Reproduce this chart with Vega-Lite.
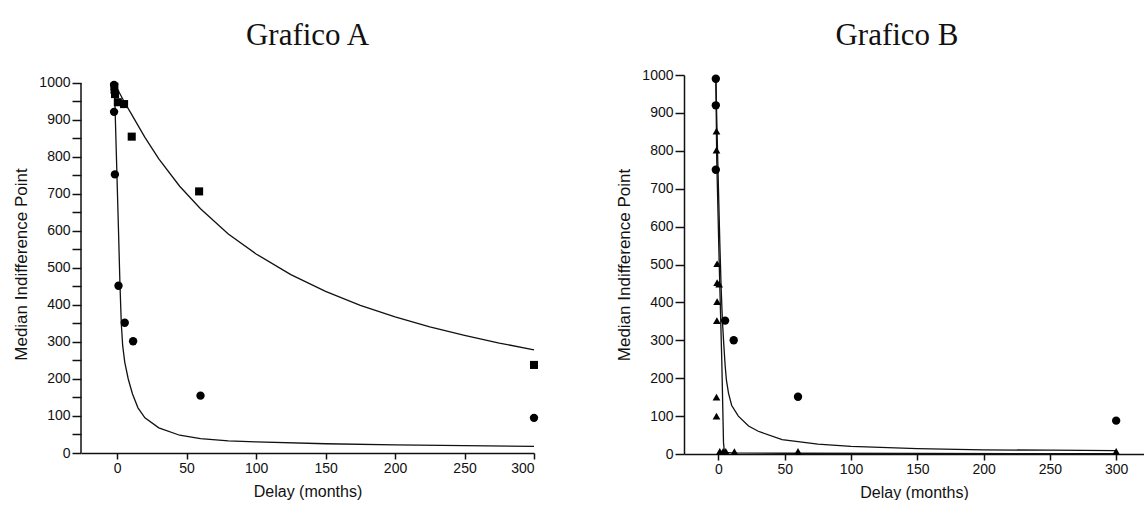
{
  "$schema": "https://vega.github.io/schema/vega-lite/v6.json",
  "autosize": {"type": "pad"},
  "padding": {"left": 12, "top": 20, "right": 0, "bottom": 0},
  "background": "white",
  "bounds": "flush",
  "spacing": 150,
  "config": {
    "view": {"stroke": null},
    "font": "Liberation Sans",
    "axis": {
      "grid": false,
      "format": "d",
      "domainColor": "#111",
      "domainWidth": 1.5,
      "tickColor": "#111",
      "tickWidth": 1.5,
      "labelColor": "#111",
      "titleColor": "#111",
      "labelFont": "Liberation Sans",
      "labelFontSize": 14,
      "titleFont": "Liberation Sans",
      "titleFontWeight": "normal"
    },
    "title": {"font": "Liberation Serif", "fontSize": 31, "fontWeight": "normal", "color": "#111", "baseline": "alphabetic"}
  },
  "datasets": {
    "pointsA": [
      {"series": "circle", "x": -2.2, "y": 995},
      {"series": "circle", "x": -1.8, "y": 975},
      {"series": "circle", "x": -2.2, "y": 922},
      {"series": "circle", "x": -1.6, "y": 753},
      {"series": "circle", "x": 1, "y": 452},
      {"series": "circle", "x": 5.5, "y": 352},
      {"series": "circle", "x": 11.5, "y": 302},
      {"series": "circle", "x": 60, "y": 155},
      {"series": "circle", "x": 300, "y": 95},
      {"series": "square", "x": -2, "y": 990},
      {"series": "square", "x": -1.5, "y": 970},
      {"series": "square", "x": 0.5, "y": 948},
      {"series": "square", "x": 5, "y": 943},
      {"series": "square", "x": 10.5, "y": 855},
      {"series": "square", "x": 59, "y": 707},
      {"series": "square", "x": 300, "y": 238}
    ],
    "curvesA": [
      {"curve": "upper", "x": -2, "y": 1000},
      {"curve": "upper", "x": 0, "y": 985},
      {"curve": "upper", "x": 5, "y": 950},
      {"curve": "upper", "x": 10, "y": 918},
      {"curve": "upper", "x": 20, "y": 853},
      {"curve": "upper", "x": 30, "y": 795},
      {"curve": "upper", "x": 45, "y": 721},
      {"curve": "upper", "x": 60, "y": 660},
      {"curve": "upper", "x": 80, "y": 592},
      {"curve": "upper", "x": 100, "y": 538},
      {"curve": "upper", "x": 125, "y": 482},
      {"curve": "upper", "x": 150, "y": 437},
      {"curve": "upper", "x": 175, "y": 399},
      {"curve": "upper", "x": 200, "y": 368},
      {"curve": "upper", "x": 225, "y": 341},
      {"curve": "upper", "x": 250, "y": 318},
      {"curve": "upper", "x": 275, "y": 297},
      {"curve": "upper", "x": 300, "y": 279},
      {"curve": "lower", "x": -2, "y": 1000},
      {"curve": "lower", "x": -0.5, "y": 800},
      {"curve": "lower", "x": 1, "y": 600},
      {"curve": "lower", "x": 2, "y": 460},
      {"curve": "lower", "x": 3, "y": 350},
      {"curve": "lower", "x": 4, "y": 290},
      {"curve": "lower", "x": 5.5, "y": 245},
      {"curve": "lower", "x": 8, "y": 200},
      {"curve": "lower", "x": 11, "y": 160},
      {"curve": "lower", "x": 15, "y": 122},
      {"curve": "lower", "x": 20, "y": 95},
      {"curve": "lower", "x": 30, "y": 68},
      {"curve": "lower", "x": 45, "y": 48},
      {"curve": "lower", "x": 60, "y": 39},
      {"curve": "lower", "x": 80, "y": 33},
      {"curve": "lower", "x": 100, "y": 30},
      {"curve": "lower", "x": 150, "y": 25},
      {"curve": "lower", "x": 200, "y": 22},
      {"curve": "lower", "x": 250, "y": 20},
      {"curve": "lower", "x": 300, "y": 18}
    ],
    "pointsB": [
      {"series": "circle", "x": -2, "y": 990},
      {"series": "circle", "x": -2, "y": 920},
      {"series": "circle", "x": -2, "y": 750},
      {"series": "circle", "x": 5, "y": 352},
      {"series": "circle", "x": 11.5, "y": 300},
      {"series": "circle", "x": 60, "y": 151},
      {"series": "circle", "x": 300, "y": 88},
      {"series": "triangle", "x": -1.5, "y": 852},
      {"series": "triangle", "x": -1.5, "y": 802},
      {"series": "triangle", "x": -1, "y": 502},
      {"series": "triangle", "x": -1, "y": 452},
      {"series": "triangle", "x": 0.5, "y": 448},
      {"series": "triangle", "x": -1, "y": 402},
      {"series": "triangle", "x": -1.2, "y": 352},
      {"series": "triangle", "x": -1.5, "y": 150},
      {"series": "triangle", "x": -1.5, "y": 100},
      {"series": "triangle", "x": 1, "y": 7},
      {"series": "triangle", "x": 3.5, "y": 7},
      {"series": "triangle", "x": 5.5, "y": 7},
      {"series": "triangle", "x": 12, "y": 6},
      {"series": "triangle", "x": 60, "y": 7},
      {"series": "triangle", "x": 300, "y": 7}
    ],
    "curvesB": [
      {"curve": "circle", "x": -2, "y": 1000},
      {"curve": "circle", "x": -1.2, "y": 870},
      {"curve": "circle", "x": 0, "y": 700},
      {"curve": "circle", "x": 1, "y": 560},
      {"curve": "circle", "x": 2, "y": 440},
      {"curve": "circle", "x": 3, "y": 350},
      {"curve": "circle", "x": 4, "y": 290},
      {"curve": "circle", "x": 5, "y": 235},
      {"curve": "circle", "x": 6, "y": 195},
      {"curve": "circle", "x": 7.6, "y": 160},
      {"curve": "circle", "x": 10, "y": 128},
      {"curve": "circle", "x": 15, "y": 100},
      {"curve": "circle", "x": 22.7, "y": 74},
      {"curve": "circle", "x": 30, "y": 60},
      {"curve": "circle", "x": 48, "y": 38},
      {"curve": "circle", "x": 75, "y": 26},
      {"curve": "circle", "x": 100, "y": 20},
      {"curve": "circle", "x": 150, "y": 14},
      {"curve": "circle", "x": 200, "y": 11},
      {"curve": "circle", "x": 250, "y": 10},
      {"curve": "circle", "x": 300, "y": 9},
      {"curve": "triangle", "x": -2, "y": 1000},
      {"curve": "triangle", "x": -1.3, "y": 775},
      {"curve": "triangle", "x": 0.5, "y": 511},
      {"curve": "triangle", "x": 2.5, "y": 247},
      {"curve": "triangle", "x": 3.8, "y": 30},
      {"curve": "triangle", "x": 4.5, "y": 4},
      {"curve": "triangle", "x": 10, "y": 3},
      {"curve": "triangle", "x": 50, "y": 2},
      {"curve": "triangle", "x": 150, "y": 1.5},
      {"curve": "triangle", "x": 300, "y": 1}
    ]
  },
  "hconcat": [
    {
      "width": 453,
      "height": 378,
      "title": {"text": "Grafico A", "offset": 23},
      "encoding": {
        "x": {"field": "x", "type": "quantitative", "scale": {"domain": [-26, 300], "nice": false, "zero": false},
              "axis": {"values": [0, 50, 100, 150, 200, 250, 300], "tickSize": 6, "labelPadding": 2, "title": "Delay (months)", "titleFontSize": 16, "titlePadding": 8}},
        "y": {"field": "y", "type": "quantitative", "scale": {"domain": [0, 1021.6], "nice": false, "zero": false},
              "axis": {"values": [0, 50, 100, 150, 200, 250, 300, 350, 400, 450, 500, 550, 600, 650, 700, 750, 800, 850, 900, 950, 1000],
                       "domain": false, "tickSize": 9, "labelPadding": 2,
                       "labelExpr": "datum.value % 100 === 0 ? datum.label : ''",
                       "encode": {"ticks": {"update": {"x2": {"signal": "datum.value % 100 === 0 ? -9 : -5"}}}},
                       "title": "Median Indifference Point", "titleFontSize": 17, "titlePadding": 8}}
      },
      "layer": [
        {
          "data": {"name": "curvesA"},
          "mark": {"type": "line", "color": "#111", "strokeWidth": 1.3},
          "encoding": {"detail": {"field": "curve"}}
        },
        {
          "data": {"name": "pointsA"},
          "mark": {"type": "point", "filled": true, "color": "#000", "opacity": 1},
          "encoding": {
            "shape": {"field": "series", "scale": {"domain": ["circle", "square", "triangle"], "range": ["circle", "square", "triangle-up"]}, "legend": null},
            "size": {"field": "series", "scale": {"domain": ["circle", "square", "triangle"], "range": [70, 60, 130]}, "legend": null}
          }
        },
        {
          "data": {"values": [{"x0": -26, "y0": 0, "y1": 1000}]},
          "mark": {"type": "rule", "color": "#111", "strokeWidth": 1.5},
          "encoding": {"x": {"field": "x0", "type": "quantitative"}, "y": {"field": "y0", "type": "quantitative"}, "y2": {"field": "y1"}}
        }
      ]
    },
    {
      "width": 460,
      "height": 379,
      "title": {"text": "Grafico B", "dx": -17, "offset": 16},
      "encoding": {
        "x": {"field": "x", "type": "quantitative", "scale": {"domain": [-26, 321], "nice": false, "zero": false},
              "axis": {"values": [0, 50, 100, 150, 200, 250, 300], "tickSize": 6, "labelPadding": 2, "title": "Delay (months)", "titleFontSize": 16, "titlePadding": 8}},
        "y": {"field": "y", "type": "quantitative", "scale": {"domain": [0, 1000], "nice": false, "zero": false},
              "axis": {"values": [0, 100, 200, 300, 400, 500, 600, 700, 800, 900, 1000], "tickSize": 9, "labelPadding": 2,
                       "title": "Median Indifference Point", "titleFontSize": 17, "titlePadding": 8}}
      },
      "layer": [
        {
          "data": {"name": "curvesB"},
          "mark": {"type": "line", "color": "#111", "strokeWidth": 1.3},
          "encoding": {"detail": {"field": "curve"}}
        },
        {
          "data": {"name": "pointsB"},
          "mark": {"type": "point", "filled": true, "color": "#000", "opacity": 1},
          "encoding": {
            "shape": {"field": "series", "scale": {"domain": ["circle", "square", "triangle"], "range": ["circle", "square", "triangle-up"]}, "legend": null},
            "size": {"field": "series", "scale": {"domain": ["circle", "square", "triangle"], "range": [70, 60, 130]}, "legend": null}
          }
        }
      ]
    }
  ]
}
